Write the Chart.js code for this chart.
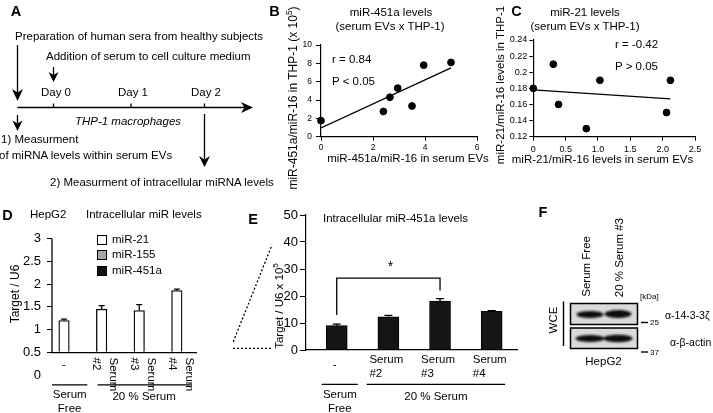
<!DOCTYPE html>
<html lang="en">
<head>
<meta charset="UTF-8">
<title>miR-451a / miR-21 levels in serum EVs, THP-1 and HepG2</title>
<script src="https://cdn.jsdelivr.net/npm/chart.js"></script>
<style>
    body { margin: 0; background: #fff; }
    #fig {
        position: relative; width: 713px; height: 413px; overflow: hidden;
        font-family: "Liberation Sans", Arial, Helvetica, sans-serif; color: #000;
    }
    #fig canvas { position: absolute; }
    #fig svg { position: absolute; left: 0; top: 0; }
    .t { position: absolute; white-space: nowrap; line-height: 1; font-size: 11.5px; }
    .b { font-weight: bold; font-size: 14.5px; }
    .up { writing-mode: vertical-rl; }
    sup { font-size: 70%; line-height: 0; }
    .lg { position: absolute; width: 8px; height: 8px; border: 1.3px solid #000; }
</style>
</head>
<body>
<div id="fig">
    <canvas id="chartB" width="200" height="130" style="left:290px;top:30px"></canvas>
    <canvas id="chartC" width="213" height="135" style="left:500px;top:25px"></canvas>
    <canvas id="chartD" width="200" height="188" style="left:10px;top:225px"></canvas>
    <canvas id="chartE" width="290" height="208" style="left:240px;top:205px"></canvas>

    <svg width="713" height="413" viewBox="0 0 713 413">
        <defs>
            <filter id="blur" x="-30%" y="-80%" width="160%" height="260%">
                <feGaussianBlur stdDeviation="1.1"/>
            </filter>
        </defs>
        <!-- A: timeline diagram -->
        <g stroke="#000" stroke-width="1.3" fill="none">
            <line x1="17.5" y1="45" x2="17.5" y2="93"/>
            <line x1="17.5" y1="107.5" x2="246" y2="107.5"/>
            <line x1="53.5" y1="103.5" x2="53.5" y2="107.5"/>
            <line x1="131" y1="103.5" x2="131" y2="107.5"/>
            <line x1="204.5" y1="103.5" x2="204.5" y2="107.5"/>
            <line x1="53.5" y1="67" x2="53.5" y2="75"/>
            <line x1="17.5" y1="115" x2="17.5" y2="123"/>
            <line x1="204.5" y1="114" x2="204.5" y2="159"/>
        </g>
        <g fill="#000">
            <polygon points="17.5,101 12,89 17.5,92.5 23,89"/>
            <polygon points="253,107.5 241,102 244.5,107.5 241,113"/>
            <polygon points="53.5,82 48.5,72 53.5,75 58.5,72"/>
            <polygon points="17.5,131 12.5,120.5 17.5,123.5 22.5,120.5"/>
            <polygon points="204.5,167 199,156 204.5,159.5 210,156"/>
        </g>
        <!-- zoom lines from D to E -->
        <g stroke="#000" stroke-width="1.3" stroke-dasharray="2 2" fill="none">
            <line x1="233" y1="348.3" x2="272" y2="348.3"/>
            <line x1="233.3" y1="341.7" x2="272" y2="245"/>
        </g>
        <!-- F: western blot -->
        <rect x="570.5" y="303.5" width="67" height="21" fill="#d9d9d9" stroke="#000" stroke-width="1.5"/>
        <rect x="570.5" y="328" width="67" height="20.5" fill="#d9d9d9" stroke="#000" stroke-width="1.5"/>
        <g fill="#111" filter="url(#blur)">
            <ellipse cx="590" cy="314.5" rx="13.5" ry="3.6"/>
            <ellipse cx="618" cy="314" rx="13.5" ry="4"/>
            <ellipse cx="590" cy="338.5" rx="14.5" ry="3.6"/>
            <ellipse cx="618" cy="338.5" rx="14.5" ry="3.8"/>
        </g>
        <g stroke="#000" stroke-width="1.4">
            <line x1="563.5" y1="301.5" x2="563.5" y2="346"/>
            <line x1="641" y1="322.5" x2="648" y2="322.5"/>
            <line x1="641" y1="352" x2="648" y2="352"/>
        </g>
    </svg>
</div>

<script>
    // B: miR-451a/miR-16, serum EVs vs THP-1 (x 10^5)
    const bEvX = [0, 2.4, 2.65, 2.95, 3.5, 3.95, 5.0];
    const bThpY = [1.75, 2.75, 4.3, 5.3, 3.35, 7.8, 8.1];
    const bFitX = [0, 5];
    const bFitY = [0.95, 7.5];

    // C: miR-21/miR-16, serum EVs vs THP-1
    const cEvX = [0, 0.31, 0.39, 0.82, 1.03, 2.06, 2.12];
    const cThpY = [0.18, 0.21, 0.16, 0.13, 0.19, 0.15, 0.19];
    const cFitX = [0, 2.12];
    const cFitY = [0.178, 0.167];

    // D: HepG2 intracellular miR levels (Target / U6)
    const dCategories = [['-'], ['Serum', '#2'], ['Serum', '#3'], ['Serum', '#4']];
    const dSeries = ['miR-21', 'miR-155', 'miR-451a'];
    const dMir21 = [1.2, 1.45, 1.42, 1.86];
    const dMir21Err = [0.03, 0.08, 0.13, 0.03];
    const dGroups = [['Serum', 'Free'], ['20 % Serum']];

    // E: intracellular miR-451a (Target / U6 x 10^5)
    const eCategories = [['-'], ['Serum', '#2'], ['Serum', '#3'], ['Serum', '#4']];
    const eMir451a = [9.0, 12.3, 18.1, 14.3];
    const eErr = [0.6, 0.5, 0.9, 0.3];
    const eGroups = [['Serum', 'Free'], ['20 % Serum']];

    const FONT = '"Liberation Sans", Arial, Helvetica, sans-serif';
    Chart.defaults.font.family = FONT;
    Chart.defaults.color = '#000';
    Chart.defaults.animation = false;
    Chart.defaults.plugins.legend.display = false;
    Chart.defaults.plugins.tooltip.enabled = false;

    // tick text without trailing zeros (0.2, 3, 2.5 ...)
    const plain = v => String(Number(v.toFixed(3)));

    function axis(min, max, step, size, tickLength, padding, fit) {
        return {
            type: 'linear', min: min, max: max, offset: false,
            ticks: {stepSize: step, font: {size: size}, color: '#000', padding: padding, callback: plain},
            grid: {drawOnChartArea: false, tickLength: tickLength, color: '#000', lineWidth: 1},
            border: {color: '#000', width: 1.2},
            afterFit: fit
        };
    }

    function errBar(ctx, x, yTop, yErr, cap) {
        ctx.beginPath();
        ctx.moveTo(x, yTop);
        ctx.lineTo(x, yErr);
        ctx.moveTo(x - cap, yErr);
        ctx.lineTo(x + cap, yErr);
        ctx.stroke();
    }

    // under-axis group brackets ("Serum Free" / "20 % Serum")
    function drawGroups(ctx, x, yLine, groups, spans) {
        ctx.textAlign = 'center';
        ctx.textBaseline = 'middle';
        groups.forEach((g, i) => {
            const x1 = x.getPixelForValue(spans[i][0]);
            const x2 = x.getPixelForValue(spans[i][1]);
            ctx.beginPath();
            ctx.moveTo(x1, yLine);
            ctx.lineTo(x2, yLine);
            ctx.stroke();
            const cx = (x1 + x2) / 2;
            if (g.length === 2) {
                ctx.fillText(g[0], cx, yLine + 10.5);
                ctx.fillText(g[1], cx, yLine + 24.3);
            } else {
                ctx.fillText(g[0], cx, yLine + 12.4);
            }
        });
    }

    new Chart(document.getElementById('chartB'), {
        type: 'scatter',
        data: {
            datasets: [
                {data: bEvX.map((x, i) => ({x: x, y: bThpY[i]})), pointRadius: 3.4,
                    backgroundColor: '#000', borderColor: '#000', clip: false},
                {data: bFitX.map((x, i) => ({x: x, y: bFitY[i]})), showLine: true, pointRadius: 0,
                    borderColor: '#000', borderWidth: 1.3}
            ]
        },
        options: {
            responsive: false, events: [],
            layout: {padding: {top: 15, right: 13}},
            scales: {
                x: axis(0, 6, 2, 8.5, 4, 2, s => { s.height = 23.3; }),
                y: axis(0, 10, 2, 8.5, 5, 4, s => { s.width = 31; })
            }
        }
    });

    const cx = axis(0, 2.5, 0.5, 9, 4, 3, s => { s.height = 23.3; });
    cx.ticks.callback = v => v === 0 ? '0' : v.toFixed(1);
    new Chart(document.getElementById('chartC'), {
        type: 'scatter',
        data: {
            datasets: [
                {data: cEvX.map((x, i) => ({x: x, y: cThpY[i]})), pointRadius: 3.4,
                    backgroundColor: '#000', borderColor: '#000', clip: false},
                {data: cFitX.map((x, i) => ({x: x, y: cFitY[i]})), showLine: true, pointRadius: 0,
                    borderColor: '#000', borderWidth: 1.3}
            ]
        },
        options: {
            responsive: false, events: [],
            layout: {padding: {top: 15, right: 18}},
            scales: {
                x: cx,
                y: axis(0.12, 0.24, 0.02, 9, 4, 2, s => { s.width = 33.3; })
            }
        }
    });

    const dExtras = {
        id: 'dExtras',
        afterDatasetsDraw(chart) {
            const {ctx, chartArea, scales: {x, y}} = chart;
            const base = y.getPixelForValue(0.5);
            ctx.save();
            ctx.strokeStyle = '#000';
            ctx.fillStyle = '#000';
            ctx.lineWidth = 1.3;
            // y axis only runs down to the 0.5 baseline
            ctx.beginPath();
            ctx.moveTo(chartArea.left, y.getPixelForValue(3));
            ctx.lineTo(chartArea.left, base);
            ctx.stroke();
            dMir21.forEach((v, i) => errBar(ctx, x.getPixelForValue(i + 1), y.getPixelForValue(v),
                y.getPixelForValue(v + dMir21Err[i]), 3));
            ctx.font = '11.5px ' + FONT;
            dCategories.forEach((lab, i) => {
                const px = x.getPixelForValue(i + 1);
                if (lab.length === 1) {
                    ctx.textAlign = 'center';
                    ctx.textBaseline = 'middle';
                    ctx.fillText(lab[0], px, base + 12.2);
                    return;
                }
                ctx.save();
                ctx.translate(px + 3.5, base + 5.2);
                ctx.rotate(Math.PI / 2);
                ctx.textAlign = 'left';
                ctx.textBaseline = 'middle';
                ctx.fillText(lab[0], 0, -8.5);
                ctx.fillText(lab[1], 0, 8.5);
                ctx.restore();
            });
            ctx.lineWidth = 1.2;
            drawGroups(ctx, x, base + 32.5, dGroups, [[0.68, 1.62], [1.89, 4.37]]);
            ctx.restore();
        }
    };

    new Chart(document.getElementById('chartD'), {
        type: 'bar',
        data: {
            datasets: [{
                label: dSeries[0],
                data: dMir21.map((v, i) => ({x: i + 1, y: v})),
                base: 0.5, barThickness: 10.5,
                backgroundColor: '#fff', borderColor: '#000', borderWidth: 1.3, borderSkipped: 'start'
            }]
        },
        options: {
            responsive: false, events: [],
            layout: {padding: {top: 11, right: 14, bottom: 38}},
            scales: {
                x: {
                    type: 'linear', min: 0.68, max: 4.51, offset: false, position: {y: 0.5},
                    ticks: {display: false}, grid: {display: false},
                    border: {color: '#000', width: 1.3}
                },
                y: Object.assign(axis(0, 3, 0.5, 13, 5, 6, s => { s.width = 42; }), {
                    border: {display: false},
                    grid: {
                        drawOnChartArea: false, tickLength: 5, lineWidth: 1,
                        color: c => (c.tick && c.tick.value === 0) ? 'rgba(0,0,0,0)' : '#000'
                    }
                })
            }
        },
        plugins: [dExtras]
    });

    const eExtras = {
        id: 'eExtras',
        afterDatasetsDraw(chart) {
            const {ctx, scales: {x, y}} = chart;
            const base = y.getPixelForValue(0);
            ctx.save();
            ctx.strokeStyle = '#000';
            ctx.fillStyle = '#000';
            ctx.lineWidth = 1.3;
            eMir451a.forEach((v, i) => errBar(ctx, x.getPixelForValue(i + 1), y.getPixelForValue(v),
                y.getPixelForValue(v + eErr[i]), 4));
            // significance bracket: serum free vs serum #3
            const xa = x.getPixelForValue(1), xb = x.getPixelForValue(3), yb = y.getPixelForValue(26.6);
            ctx.beginPath();
            ctx.moveTo(xa, y.getPixelForValue(13));
            ctx.lineTo(xa, yb);
            ctx.lineTo(xb, yb);
            ctx.lineTo(xb, y.getPixelForValue(22));
            ctx.stroke();
            ctx.font = '14px ' + FONT;
            ctx.textAlign = 'center';
            ctx.textBaseline = 'middle';
            ctx.fillText('*', (xa + xb) / 2 + 2, y.getPixelForValue(30.7));

            ctx.font = '11.5px ' + FONT;
            eCategories.forEach((lab, i) => {
                const px = x.getPixelForValue(i + 1);
                if (lab.length === 1) {
                    ctx.textAlign = 'center';
                    ctx.fillText(lab[0], px - 2, base + 15);
                    return;
                }
                const lx = px - 2 - ctx.measureText(lab[0]).width / 2;
                ctx.textAlign = 'left';
                ctx.fillText(lab[0], lx, base + 10);
                ctx.fillText(lab[1], lx, base + 24);
            });
            ctx.lineWidth = 1.2;
            drawGroups(ctx, x, base + 34.3, eGroups, [[0.71, 1.41], [1.58, 4.26]]);
            ctx.restore();
        }
    };

    new Chart(document.getElementById('chartE'), {
        type: 'bar',
        data: {
            datasets: [{
                label: 'miR-451a',
                data: eMir451a.map((v, i) => ({x: i + 1, y: v})),
                barThickness: 21, backgroundColor: '#151515', borderColor: '#000', borderWidth: 1
            }]
        },
        options: {
            responsive: false, events: [],
            layout: {padding: {top: 10, right: 13, bottom: 63}},
            scales: {
                x: {
                    type: 'linear', min: 0.405, max: 4.49, offset: false,
                    ticks: {display: false}, grid: {display: false},
                    border: {color: '#000', width: 1.3},
                    afterFit: s => { s.height = 0; }
                },
                y: axis(0, 50, 10, 13, 6, 2, s => { s.width = 66; })
            }
        },
        plugins: [eExtras]
    });

    // ---- text annotations ----
    const fig = document.getElementById('fig');

    function txt(html, x, y, o = {}) {
        const d = document.createElement('div');
        d.className = 't' + (o.bold ? ' b' : '');
        d.innerHTML = html;
        if (o.size) d.style.fontSize = o.size + 'px';
        if (o.italic) d.style.fontStyle = 'italic';
        d.style.left = x + 'px';
        d.style.top = y + 'px';
        const ax = o.align === 'l' ? '0' : (o.align === 'r' ? '-100%' : '-50%');
        d.style.transform = 'translate(' + ax + ',-50%)' + (o.rot ? ' rotate(' + o.rot + 'deg)' : '');
        fig.appendChild(d);
        return d;
    }

    // vertical text reading bottom-to-top, starting at yBottom
    function txtUp(html, x, yBottom, o = {}) {
        const d = document.createElement('div');
        d.className = 't up';
        d.innerHTML = html;
        if (o.size) d.style.fontSize = o.size + 'px';
        d.style.left = x + 'px';
        d.style.bottom = (413 - yBottom) + 'px';
        d.style.transform = 'translateX(-50%) rotate(180deg)';
        fig.appendChild(d);
    }

    const B = {bold: true};
    const L = {align: 'l'};
    txt('A', 16, 10.5, B);
    txt('B', 274.5, 10.5, B);
    txt('C', 516.5, 10.5, B);
    txt('D', 7.5, 215, B);
    txt('E', 253, 219, B);
    txt('F', 543, 212, B);

    // A
    txt('Preparation of human sera from healthy subjects', 15, 37, L);
    txt('Addition of serum to cell culture medium', 46, 57, L);
    txt('Day 0', 56, 93);
    txt('Day 1', 133, 93);
    txt('Day 2', 206, 93);
    txt('THP-1 macrophages', 128, 122, {italic: true});
    txt('1) Measurment', 1, 140, L);
    txt('of miRNA levels within serum EVs', -1, 155.5, L);
    txt('2) Measurment of intracellular miRNA levels', 50, 183, L);

    // B
    txt('miR-451a levels', 391, 13);
    txt('(serum EVs x THP-1)', 390, 26.5);
    txt('r = 0.84', 332, 60, L);
    txt('P &lt; 0.05', 332, 82, L);
    txt('miR-451a/miR-16 in THP-1 (x 10<sup>5</sup>)', 293, 98, {rot: -90, size: 12});
    txt('miR-451a/miR-16 in serum EVs', 408, 159);

    // C
    txt('miR-21 levels', 585, 13);
    txt('(serum EVs x THP-1)', 585, 27);
    txt('r = -0.42', 615, 45, L);
    txt('P &gt; 0.05', 615, 67, L);
    txt('miR-21/miR-16 levels in THP-1', 501, 85, {rot: -90});
    txt('miR-21/miR-16 levels in serum EVs', 602.5, 160);

    // D
    txt('HepG2', 30, 215, L);
    txt('Intracellular miR levels', 86, 215, L);
    txt('Target / U6', 15, 294, {rot: -90, size: 12});
    const dLegendFill = ['#fff', '#a6a6a6', '#111'];
    dSeries.forEach((name, i) => {
        const yRow = 240 + i * 15.4;
        const box = document.createElement('div');
        box.className = 'lg';
        box.style.left = '97px';
        box.style.top = (yRow - 5) + 'px';
        box.style.background = dLegendFill[i];
        fig.appendChild(box);
        txt(name, 112, yRow, L);
    });

    // E
    txt('Intracellular miR-451a levels', 323, 219, L);
    txt('Target / U6 x 10<sup>5</sup>', 280, 306, {rot: -90});

    // F
    txtUp('Serum Free', 587, 297);
    txtUp('20 % Serum #3', 619.5, 297);
    txt('[kDa]', 640, 297, {align: 'l', size: 8});
    txt('25', 650, 323, {align: 'l', size: 8});
    txt('37', 650, 352.5, {align: 'l', size: 8});
    txt('α-14-3-3ζ', 665, 315, {align: 'l', size: 10.5});
    txt('α-β-actin', 670, 341.5, {align: 'l', size: 10.5});
    txt('WCE', 553.5, 320, {rot: -90});
    txt('HepG2', 603.5, 362);
</script>
</body>
</html>
